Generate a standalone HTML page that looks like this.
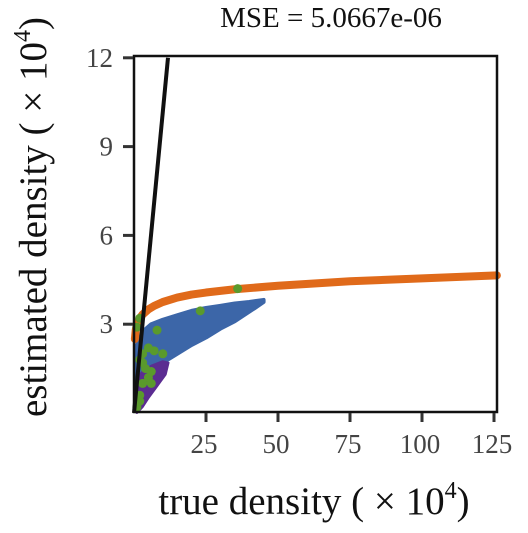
<!DOCTYPE html>
<html><head><meta charset="utf-8"><style>
body{margin:0;background:#fff;}
text{font-family:"Liberation Serif",serif;}
</style></head><body>
<svg width="528" height="528" viewBox="0 0 528 528" xmlns="http://www.w3.org/2000/svg">
<text x="331" y="27" font-size="29" text-anchor="middle" fill="#111">MSE = 5.0667e-06</text>
<g id="plot"></g>
<rect x="134" y="56" width="363" height="356" fill="none" stroke="#111" stroke-width="2.5"/>
<g id="axes"></g>
<text x="314" y="514" font-size="39" text-anchor="middle" fill="#111">true density ( × 10<tspan font-size="24" dy="-16">4</tspan><tspan dy="16">)</tspan></text>
<text transform="translate(46,217) rotate(-90)" font-size="39" text-anchor="middle" fill="#111">estimated density ( × 10<tspan font-size="24" dy="-16">4</tspan><tspan dy="16">)</tspan></text>
</svg>
<script>
const xTicks=[25,50,75,100,125];
const yTicks=[3,6,9,12];
const orangeX=[0.3,0.6,1,2,3,5,7,10,15,20,25,35,50,75,100,126];
const orangeY=[2.5,2.8,3.0,3.2,3.33,3.5,3.62,3.75,3.9,4.0,4.07,4.18,4.3,4.45,4.55,4.65];
const blueUpperX=[1,3,6,10,15,20,25,30,35,40,45];
const blueUpperY=[2.3,2.75,3.0,3.15,3.3,3.45,3.55,3.62,3.7,3.75,3.82];
const blueLowerX=[45,42,35,30,25,20,15,10,6,3,1];
const blueLowerY=[3.75,3.55,3.1,2.85,2.55,2.3,2.0,1.7,1.4,1.0,0.5];
const purpleX=[1,3,6,10,12,11,8,5,3,1];
const purpleY=[1.2,1.4,1.6,1.75,1.7,1.3,0.9,0.5,0.2,0];
const greenX=[1,2,3,5,6,4,2,3,5,7,10,8,23,36,1,2,3,6,2];
const greenY=[0.2,0.6,1.0,1.2,1.4,1.5,1.8,2.0,2.2,2.1,2.0,2.8,3.45,4.2,2.9,3.2,1.7,1.0,0.4];
const refX=[0,11.8];
const refY=[0,12];
const NS="http://www.w3.org/2000/svg";
const sx=v=>134+v*72/25, sy=v=>413-v*29.6;
const plot=document.getElementById('plot'), axes=document.getElementById('axes');
function mk(tag,a,p){const e=document.createElementNS(NS,tag);for(const k in a)e.setAttribute(k,a[k]);p.appendChild(e);return e;}
const pts=(X,Y)=>X.map((x,i)=>sx(x)+','+sy(Y[i])).join(' ');
let e;
e=mk('polygon',{points:pts(blueUpperX.concat(blueLowerX),blueUpperY.concat(blueLowerY)),fill:'#3c66a8',stroke:'#3c66a8','stroke-width':4,'stroke-linejoin':'round'},plot);


e=mk('polygon',{points:pts(purpleX,purpleY),fill:'#5b2c91',stroke:'#5b2c91','stroke-width':2,'stroke-linejoin':'round'},plot);


e=mk('polyline',{points:pts(orangeX,orangeY),fill:'none',stroke:'#e06a1a','stroke-width':8,'stroke-linecap':'round','stroke-linejoin':'round'},plot);


greenX.forEach((x,i)=>{
  const c=mk('circle',{cx:sx(x),cy:sy(greenY[i]),r:4.5,fill:'#5a9a2c'},plot);
  
  
});
e=mk('polyline',{points:pts(refX,refY),fill:'none',stroke:'#111','stroke-width':4},plot);


xTicks.forEach(t=>{
  const l=mk('line',{x1:sx(t),x2:sx(t),y1:413,y2:422,stroke:'#333','stroke-width':3},axes);
  
  
  const tx=mk('text',{x:sx(t)-2,y:453,'font-size':27,'text-anchor':'middle',fill:'#444'},axes);
  tx.textContent=t;
  
  
});
yTicks.forEach(t=>{
  const l=mk('line',{x1:123,x2:133,y1:sy(t),y2:sy(t),stroke:'#333','stroke-width':3},axes);
  
  
  const tx=mk('text',{x:113,y:sy(t)+9,'font-size':27,'text-anchor':'end',fill:'#444'},axes);
  tx.textContent=t;
  
  
});
</script>
</body></html>
